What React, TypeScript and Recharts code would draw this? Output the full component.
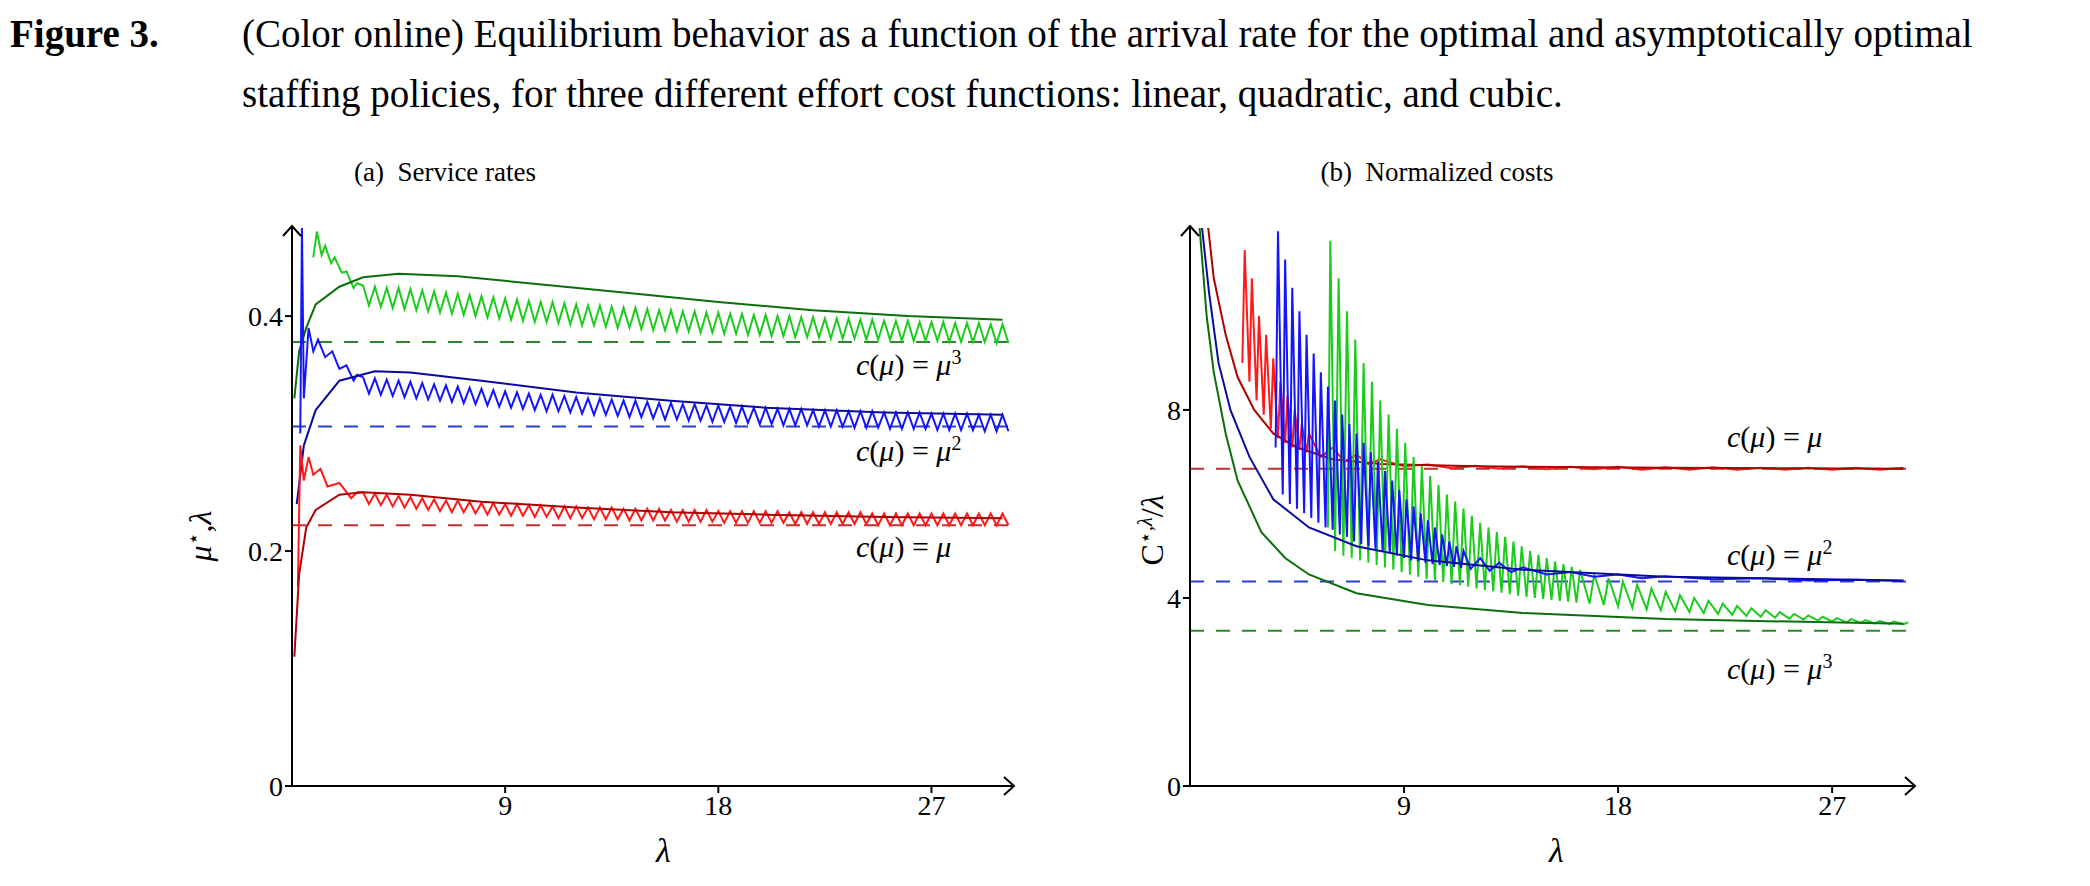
import React from "react";
import { LineChart, Line, XAxis, YAxis, ReferenceLine } from "recharts";

// ---- panel (a): service rates ----
const halfGrid = [3,3.5,4,4.5,5,5.5,6,6.5,7,7.5,8,8.5,9,9.5,10,10.5,11,11.5,12,12.5,13,13.5,14,14.5,15,15.5,16,16.5,17,17.5,18,18.5,19,19.5,20,20.5,21,21.5,22,22.5,23,23.5,24,24.5,25,25.5,26,26.5,27,27.5,28,28.5,29,29.5,30];

const greenHead = [[0.9,0.45],[1.05,0.472],[1.25,0.452],[1.4,0.46],[1.65,0.445],[1.8,0.45],[2.1,0.437],[2.3,0.438],[2.6,0.424],[2.75,0.428]];
const greenHi = [.426,.425,.424,.424,.423,.422,.421,.420,.419,.418,.417,.416,.415,.414,.413,.412,.412,.411,.410,.409,.409,.408,.407,.407,.406,.405,.405,.404,.404,.403,.403,.402,.402,.401,.401,.400,.400,.399,.399,.398,.398,.398,.397,.397,.396,.396,.396,.395,.395,.395,.394,.394,.394,.393,.393];
const greenLo = [.409,.408,.407,.406,.405,.404,.403,.402,.401,.400,.399,.398,.397,.396,.395,.395,.394,.393,.392,.392,.391,.390,.390,.389,.388,.388,.387,.387,.386,.386,.385,.385,.384,.384,.383,.383,.382,.382,.382,.381,.381,.381,.380,.380,.380,.379,.379,.379,.379,.378,.378,.378,.378,.377,.377];
const greenSmooth = [[0.1,0.33],[0.3,0.37],[0.6,0.39],[1,0.41],[2,0.425],[3,0.433],[4.5,0.436],[7,0.434],[10,0.428],[14,0.42],[18,0.412],[22,0.405],[26,0.4],[30,0.397]];

const blueHead = [[0.35,0.3],[0.42,0.475],[0.5,0.33],[0.7,0.39],[0.9,0.37],[1.1,0.38],[1.4,0.365],[1.7,0.37],[2,0.355],[2.3,0.358],[2.6,0.345],[2.75,0.35]];
const blueHi = [.348,.347,.346,.345,.344,.343,.342,.341,.340,.339,.338,.337,.336,.335,.334,.333,.333,.332,.331,.330,.330,.329,.328,.328,.327,.326,.326,.325,.325,.324,.324,.323,.323,.322,.322,.321,.321,.321,.320,.320,.320,.319,.319,.319,.318,.318,.318,.318,.317,.317,.317,.317,.316,.316,.316];
const blueLo = [.334,.333,.332,.331,.330,.329,.328,.327,.326,.325,.324,.323,.322,.321,.320,.319,.319,.318,.317,.316,.316,.315,.314,.314,.313,.312,.312,.311,.311,.310,.310,.309,.309,.308,.308,.307,.307,.307,.306,.306,.306,.305,.305,.305,.304,.304,.304,.304,.303,.303,.303,.303,.302,.302,.302];
const blueSmooth = [[0.2,0.24],[0.5,0.29],[1,0.32],[2,0.345],[3.5,0.353],[5,0.352],[8,0.345],[12,0.335],[16,0.328],[20,0.322],[25,0.318],[30,0.316]];

const redHead = [[0.25,0.17],[0.35,0.29],[0.5,0.26],[0.7,0.28],[0.9,0.265],[1.2,0.27],[1.5,0.255],[2,0.258],[2.5,0.245],[2.75,0.25]];
const redHi = [.250,.249,.248,.247,.246,.245,.244,.243,.243,.242,.241,.241,.240,.240,.239,.239,.238,.238,.238,.237,.237,.237,.236,.236,.236,.236,.235,.235,.235,.235,.234,.234,.234,.234,.234,.234,.233,.233,.233,.233,.233,.233,.233,.232,.232,.232,.232,.232,.232,.232,.232,.232,.232,.232,.232];
const redLo = [.240,.239,.238,.237,.236,.235,.234,.233,.233,.232,.231,.231,.230,.230,.229,.229,.228,.228,.228,.227,.227,.227,.226,.226,.226,.226,.225,.225,.225,.225,.224,.224,.224,.224,.224,.224,.223,.223,.223,.223,.223,.223,.223,.222,.222,.222,.222,.222,.222,.222,.222,.222,.222,.222,.222];
const redSmooth = [[0.1,0.11],[0.3,0.18],[0.6,0.22],[1,0.235],[2,0.248],[3,0.25],[5,0.248],[8,0.242],[12,0.237],[16,0.233],[20,0.231],[25,0.229],[30,0.228]];

const limitsA = { green: 0.378, blue: 0.306, red: 0.222 };

// ---- panel (b): normalized costs ----
const redSmoothB = [[0.76,11.9],[1,10.8],[1.5,9.6],[2,8.7],[2.7,8],[3.5,7.5],[4.5,7.2],[6,6.95],[8,6.85],[12,6.8],[20,6.77],[30,6.75]];
const redSawB = [[2.2,9.0],[2.3,11.4],[2.5,8.6],[2.6,10.8],[2.8,8.2],[2.9,10],[3.1,7.9],[3.2,9.6],[3.4,7.6],[3.5,9.1],[3.7,7.4],[3.8,8.6],[4.0,7.3],[4.1,8.3],[4.3,7.2],[4.4,8.0],[4.6,7.15],[4.7,7.7],[4.9,7.1],[5.0,7.5],[5.5,7.0],[6,7.2],[6.5,6.9],[7,7.05],[7.5,6.85],[8,6.95],[9,6.8],[10,6.84],[11,6.76],[12,6.81],[13,6.75],[14,6.8],[15,6.74],[16,6.79],[17,6.74],[18,6.79],[19,6.73],[20,6.78],[21,6.73],[22,6.78],[23,6.73],[24,6.77],[25,6.73],[26,6.77],[27,6.73],[28,6.77],[29,6.73],[30,6.77]];
const blueSmoothB = [[0.5,11.9],[0.8,10.5],[1.2,9],[1.7,8],[2.5,7],[3.5,6.1],[5,5.5],[7,5.1],[10,4.8],[14,4.6],[20,4.45],[30,4.37]];
const blueSawB = [[3.6,7.2],[3.7,11.8],[3.9,6.2],[4.0,11.2],[4.2,6.0],[4.3,10.6],[4.5,5.9],[4.6,10.1],[4.8,5.8],[4.9,9.6],[5.1,5.7],[5.2,9.2],[5.4,5.6],[5.5,8.8],[5.7,5.5],[5.8,8.5],[6.0,5.45],[6.1,8.2],[6.3,5.35],[6.4,7.9],[6.6,5.3],[6.7,7.7],[6.9,5.2],[7.0,7.5],[7.2,5.15],[7.3,7.3],[7.5,5.1],[7.6,7.1],[7.8,5.05],[7.9,6.9],[8.1,5.0],[8.2,6.7],[8.4,4.95],[8.5,6.5],[8.7,4.9],[8.8,6.3],[9.0,4.85],[9.1,6.1],[9.3,4.8],[9.4,5.95],[9.6,4.78],[9.7,5.8],[9.9,4.75],[10.0,5.65],[10.2,4.72],[10.3,5.5],[10.5,4.7],[10.6,5.35],[10.8,4.68],[10.9,5.2],[11.1,4.66],[11.2,5.1],[11.4,4.64],[11.5,5.0],[11.8,4.62],[12.2,4.85],[12.6,4.58],[13,4.75],[13.5,4.55],[14,4.65],[15,4.5],[16,4.55],[17,4.45],[18,4.5],[19,4.42],[20,4.46],[22,4.4],[24,4.42],[26,4.37],[28,4.39],[30,4.36]];
const greenSmoothB = [[0.4,11.9],[0.7,10],[1,8.8],[1.5,7.5],[2,6.5],[3,5.4],[4,4.85],[5,4.5],[7,4.1],[10,3.85],[14,3.68],[20,3.55],[30,3.45]];
const greenSawB = [[5.8,5.5],[5.9,11.6],[6.1,5.0],[6.25,10.8],[6.45,4.9],[6.6,10.1],[6.8,4.85],[6.95,9.5],[7.15,4.8],[7.3,9.0],[7.5,4.75],[7.65,8.6],[7.85,4.7],[8.0,8.2],[8.2,4.65],[8.35,7.9],[8.55,4.6],[8.7,7.6],[8.9,4.55],[9.05,7.3],[9.25,4.5],[9.4,7.0],[9.6,4.45],[9.75,6.8],[9.95,4.4],[10.1,6.6],[10.3,4.37],[10.45,6.4],[10.65,4.34],[10.8,6.2],[11.0,4.3],[11.15,6.05],[11.35,4.27],[11.5,5.9],[11.7,4.24],[11.85,5.75],[12.05,4.2],[12.2,5.6],[12.4,4.17],[12.55,5.5],[12.75,4.14],[12.9,5.4],[13.1,4.11],[13.25,5.3],[13.45,4.08],[13.6,5.2],[13.8,4.05],[13.95,5.1],[14.15,4.02],[14.3,5.0],[14.5,4.0],[14.65,4.92],[14.85,3.98],[15.0,4.85],[15.2,3.96],[15.35,4.78],[15.55,3.94],[15.7,4.72],[15.9,3.92],[16.05,4.66],[16.25,3.9],[16.4,4.6],[16.8,3.88],[17.0,4.5],[17.4,3.85],[17.6,4.42],[18.0,3.82],[18.2,4.35],[18.6,3.79],[18.8,4.28],[19.2,3.76],[19.4,4.2],[19.8,3.74],[20.0,4.13],[20.4,3.72],[20.6,4.06],[21.0,3.7],[21.2,4.0],[21.6,3.68],[21.8,3.94],[22.2,3.66],[22.4,3.88],[22.8,3.64],[23.0,3.83],[23.4,3.62],[23.6,3.78],[24.0,3.6],[24.2,3.74],[24.6,3.58],[24.8,3.7],[25.2,3.56],[25.4,3.66],[25.8,3.54],[26.0,3.63],[26.4,3.52],[26.6,3.6],[27.0,3.5],[27.2,3.57],[27.6,3.48],[27.8,3.55],[28.2,3.47],[28.4,3.53],[28.8,3.46],[29.0,3.51],[29.4,3.45],[29.6,3.5],[30.0,3.44],[30.2,3.48]];

const limitsB = { red: 6.75, blue: 4.35, green: 3.3 };

const C = {
  lg: "#1ccc1c", dg: "#0a6e0a", lb: "#1414ff", db: "#0a0aa0", lr: "#ff1a1a", dr: "#b00000",
  dashG: "#2a8a2a", dashB: "#2a3fd0", dashR: "#c03030",
};

const toPts = (arr: number[][]) => arr.map(([x, y]) => ({ x, y }));
const saw = (head: number[][], hi: number[], lo: number[]) => {
  const out = toPts(head);
  halfGrid.forEach((x, i) => {
    out.push({ x, y: hi[i] });
    if (lo[i] !== undefined) out.push({ x: x + 0.25, y: lo[i] });
  });
  return out;
};

const serif = "'Liberation Serif', 'DejaVu Serif', serif";
const tickStyle = { fontSize: 28, fill: "#000", fontFamily: serif };

const line = (data: any[], color: string, w = 2) => (
  <Line data={data} dataKey="y" type="linear" stroke={color} strokeWidth={w} dot={false} isAnimationActive={false} />
);

const Label = ({ left, top, sup }: { left: number; top: number; sup?: string }) => (
  <div style={{ position: "absolute", left, top, fontFamily: serif, fontSize: 30, whiteSpace: "nowrap", lineHeight: "34px" }}>
    <i>c</i>(<i>μ</i>) = <i>μ</i>{sup && <sup style={{ fontSize: 20 }}>{sup}</sup>}
  </div>
);

const Arrows = ({ x0, y0, x1, yTop }: { x0: number; y0: number; x1: number; yTop: number }) => (
  <svg style={{ position: "absolute", left: 0, top: 0 }} width={2090} height={886}>
    <path d={`M${x0 - 9},${yTop + 10} L${x0},${yTop} L${x0 + 9},${yTop + 10}`} fill="none" stroke="#000" strokeWidth={2} />
    <path d={`M${x1 - 10},${y0 - 9} L${x1},${y0} L${x1 - 10},${y0 + 9}`} fill="none" stroke="#000" strokeWidth={2} />
  </svg>
);

export default function App() {
  return (
    <div style={{ position: "absolute", left: 0, top: 0, width: 2090, height: 886, background: "#fff", fontFamily: serif }}>
      <div style={{ position: "absolute", left: 10, top: 4, fontSize: 39, lineHeight: "60px", fontWeight: "bold" }}>Figure 3.</div>
      <div style={{ position: "absolute", left: 242, top: 4, fontSize: 39, lineHeight: "60px", whiteSpace: "nowrap" }}>
        (Color online) Equilibrium behavior as a function of the arrival rate for the optimal and asymptotically optimal<br />
        staffing policies, for three different effort cost functions: linear, quadratic, and cubic.
      </div>
      <div style={{ position: "absolute", left: 445, top: 157, fontSize: 27, transform: "translateX(-50%)", whiteSpace: "nowrap" }}>(a)&nbsp; Service rates</div>
      <div style={{ position: "absolute", left: 1437, top: 157, fontSize: 27, transform: "translateX(-50%)", whiteSpace: "nowrap" }}>(b)&nbsp; Normalized costs</div>

      {/* panel (a) */}
      <div style={{ position: "absolute", left: 0, top: 0 }}>
        <LineChart width={1040} height={886} margin={{ top: 228, right: 28, bottom: 60, left: 222 }}>
          <XAxis type="number" dataKey="x" domain={[0, 30.4]} ticks={[9, 18, 27]} allowDataOverflow
            stroke="#000" strokeWidth={2} tick={tickStyle} tickSize={7} height={40} />
          <YAxis type="number" dataKey="y" domain={[0, 0.475]} ticks={[0, 0.2, 0.4]} allowDataOverflow
            stroke="#000" strokeWidth={2} tick={tickStyle} tickSize={7} width={70} tickFormatter={(v) => String(v)} />
          <ReferenceLine y={limitsA.green} stroke={C.dashG} strokeWidth={2} strokeDasharray="14 12" />
          <ReferenceLine y={limitsA.blue} stroke={C.dashB} strokeWidth={2} strokeDasharray="14 12" />
          <ReferenceLine y={limitsA.red} stroke={C.dashR} strokeWidth={2} strokeDasharray="14 12" />
          {line(saw(greenHead, greenHi, greenLo), C.lg)}
          {line(toPts(greenSmooth), C.dg)}
          {line(saw(blueHead, blueHi, blueLo), C.lb)}
          {line(toPts(blueSmooth), C.db)}
          {line(saw(redHead, redHi, redLo), C.lr)}
          {line(toPts(redSmooth), C.dr)}
        </LineChart>
      </div>
      <Arrows x0={292} y0={786} x1={1014} yTop={226} />
      <div style={{ position: "absolute", left: 200, top: 536, fontSize: 32, transform: "translate(-50%,-50%) rotate(-90deg)", whiteSpace: "nowrap" }}>
        <i>μ</i><sup style={{ fontSize: 20 }}>⋆</sup>,<i>λ</i>
      </div>
      <div style={{ position: "absolute", left: 656, top: 832, fontSize: 34 }}><i>λ</i></div>
      <Label left={856} top={340} sup="3" />
      <Label left={856} top={426} sup="2" />
      <Label left={856} top={530} />

      {/* panel (b) */}
      <div style={{ position: "absolute", left: 1040, top: 0 }}>
        <LineChart width={900} height={886} margin={{ top: 228, right: 27, bottom: 60, left: 80 }}>
          <XAxis type="number" dataKey="x" domain={[0, 30.4]} ticks={[9, 18, 27]} allowDataOverflow
            stroke="#000" strokeWidth={2} tick={tickStyle} tickSize={7} height={40} />
          <YAxis type="number" dataKey="y" domain={[0, 11.87]} ticks={[0, 4, 8]} allowDataOverflow
            stroke="#000" strokeWidth={2} tick={tickStyle} tickSize={7} width={70} />
          <ReferenceLine y={limitsB.red} stroke={C.dashR} strokeWidth={2} strokeDasharray="14 12" />
          <ReferenceLine y={limitsB.blue} stroke={C.dashB} strokeWidth={2} strokeDasharray="14 12" />
          <ReferenceLine y={limitsB.green} stroke={C.dashG} strokeWidth={2} strokeDasharray="14 12" />
          {line(toPts(redSawB), C.lr)}
          {line(toPts(redSmoothB), C.dr)}
          {line(toPts(greenSawB), C.lg)}
          {line(toPts(blueSawB), C.lb)}
          {line(toPts(blueSmoothB), C.db)}
          {line(toPts(greenSmoothB), C.dg)}
        </LineChart>
      </div>
      <Arrows x0={1190} y0={786} x1={1915} yTop={226} />
      <div style={{ position: "absolute", left: 1152, top: 530, fontSize: 32, transform: "translate(-50%,-50%) rotate(-90deg)", whiteSpace: "nowrap" }}>
        C<sup style={{ fontSize: 20 }}>⋆,<i>λ</i></sup>/<i>λ</i>
      </div>
      <div style={{ position: "absolute", left: 1549, top: 832, fontSize: 34 }}><i>λ</i></div>
      <Label left={1727} top={420} />
      <Label left={1727} top={530} sup="2" />
      <Label left={1727} top={644} sup="3" />
    </div>
  );
}
